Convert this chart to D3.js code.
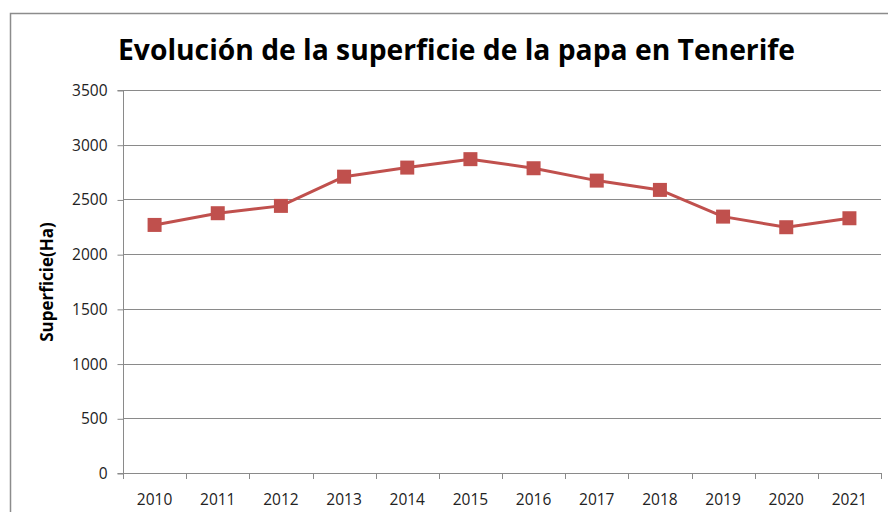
<!DOCTYPE html>
<html><head><meta charset="utf-8">
<script src="https://cdn.jsdelivr.net/npm/d3@7"></script>
<style>body{margin:0;background:#fff}svg{display:block}</style>
</head><body>
<svg id="c" width="888" height="512"></svg>
<script>
const years = ["2010","2011","2012","2013","2014","2015","2016","2017","2018","2019","2020","2021"];
const superficie = [2267,2374,2441,2708,2791,2868,2785,2672,2587,2343,2246,2328];
const yTicks = [0,500,1000,1500,2000,2500,3000,3500];
const titleText = "Evolución de la superficie de la papa en Tenerife";
const yTitle = "Superficie(Ha)";

const svg = d3.select("#c");
const font = "Open Sans, Liberation Sans, sans-serif";
const L = 123, R = 881, T = 90, B = 473;

// outer border
svg.append("rect").attr("x",10.5).attr("y",13.5).attr("width",900).attr("height",520)
  .attr("fill","none").attr("stroke","#8c8c8c").attr("stroke-width",1.5);

const x = d3.scaleBand().domain(years).range([L,R]);
const y = d3.scaleLinear().domain([0,3500]).range([B,T]);

// gridlines
svg.append("g").selectAll("line").data(yTicks.filter(d=>d>0)).join("line")
  .attr("x1",L).attr("x2",R).attr("y1",d=>Math.round(y(d))+0.5).attr("y2",d=>Math.round(y(d))+0.5)
  .attr("stroke","#8a8a8a").attr("stroke-width",1);

// y axis
const ya = svg.append("g").attr("transform",`translate(${L+0.5},0.5)`)
  .call(d3.axisLeft(y).tickValues(yTicks).tickSize(6).tickPadding(10).tickFormat(d3.format("d")));
ya.select(".domain").attr("stroke","#8a8a8a").attr("d",`M-6,${B}H0V${T}H-6`);
ya.selectAll(".tick line").attr("stroke","#8a8a8a");
ya.selectAll(".tick text").attr("font-family",font).attr("font-size",15.5).attr("fill","#222");

// x axis
const xa = svg.append("g").attr("transform",`translate(0,${B+0.5})`)
  .call(d3.axisBottom(x).tickSize(0).tickPadding(20));
xa.select(".domain").attr("stroke","#8a8a8a").attr("d",`M${L},0H${R}`);
xa.selectAll(".tick text").attr("font-family",font).attr("font-size",15.5).attr("fill","#222");
// boundary ticks
svg.append("g").selectAll("line").data(years.concat(["end"])).join("line")
  .attr("x1",(d,i)=>Math.round(L + i*x.step())+0.5).attr("x2",(d,i)=>Math.round(L + i*x.step())+0.5)
  .attr("y1",B).attr("y2",B+6).attr("stroke","#8a8a8a");

// line
const cx = d=>x(d)+x.bandwidth()/2;
svg.append("path").datum(years)
  .attr("d",d3.line().x(d=>cx(d)).y((d,i)=>y(superficie[i])))
  .attr("fill","none").attr("stroke","#C0504D").attr("stroke-width",3).attr("stroke-linejoin","round");
const ms = 14;
svg.append("g").selectAll("rect").data(years).join("rect")
  .attr("x",d=>cx(d)-ms/2).attr("y",(d,i)=>y(superficie[i])-ms/2)
  .attr("width",ms).attr("height",ms).attr("fill","#C0504D");

// title
const t = svg.append("text").attr("x",(118+795)/2).attr("y",60).attr("text-anchor","middle")
  .attr("font-family",font).attr("font-weight","bold").attr("font-size",30).attr("fill","#000")
  .text(titleText);
const w = t.node().getComputedTextLength();
t.attr("font-size",30*677/w);

// y title
svg.append("text").attr("transform","translate(53,282) rotate(-90)").attr("text-anchor","middle")
  .attr("font-family",font).attr("font-weight","bold").attr("font-size",17).attr("fill","#000")
  .text(yTitle);
</script>
</body></html>
